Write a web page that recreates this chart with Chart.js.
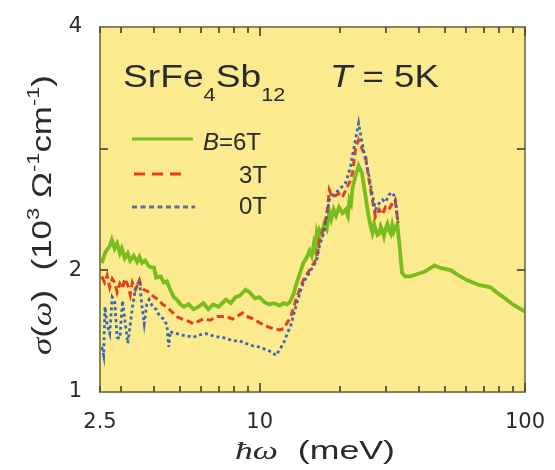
<!DOCTYPE html>
<html>
<head>
<meta charset="utf-8">
<script src="https://cdn.jsdelivr.net/npm/chart.js@4.4.1/dist/chart.umd.min.js"></script>
<style>
html,body{margin:0;padding:0;background:#ffffff;}
#wrap{width:555px;height:470px;}
</style>
</head>
<body>
<div id="wrap"><canvas id="c" width="555" height="470"></canvas></div>
<script>
// ---- data ----
const energy6T = [2.54,2.62,2.72,2.77,2.84,2.90,2.97,3.02,3.10,3.18,3.25,3.35,3.45,3.52,3.60,3.70,3.83,4.00,4.07,4.24,4.35,4.47,4.60,4.74,4.87,5.03,5.17,5.40,5.63,5.87,6.13,6.40,6.67,7.00,7.46,7.78,8.10,8.41,8.85,9.15,9.60,9.97,10.4,10.86,11.3,11.9,12.3,12.7,13.0,13.4,13.8,14.2,14.6,15.0,15.4,15.7,16.0,16.2,16.4,16.6,16.8,17.1,17.5,17.9,18.3,18.6,19.0,19.4,19.9,20.5,21.1,21.5,21.8,22.1,22.4,23.0,23.6,24.3,25.1,25.7,26.2,26.6,27.0,27.3,27.8,28.2,28.6,29.0,29.4,29.8,30.3,30.7,31.2,31.6,32.0,32.4,33.0,33.5,34.0,34.4,35.3,37.0,39.4,42.0,45.6,48.0,52.7,56.0,60.4,67.0,74.2,78.0,82.9,90.0,98.3,100];
const sigma6T  = [2.06,2.15,2.20,2.25,2.18,2.22,2.14,2.18,2.10,2.14,2.08,2.12,2.07,2.11,2.06,2.08,2.03,2.02,1.94,1.95,1.90,1.91,1.84,1.78,1.76,1.72,1.70,1.72,1.68,1.70,1.73,1.68,1.72,1.70,1.76,1.73,1.78,1.79,1.84,1.82,1.77,1.78,1.74,1.72,1.73,1.71,1.73,1.72,1.74,1.80,1.90,1.98,2.06,2.10,2.16,2.12,2.22,2.17,2.30,2.25,2.33,2.30,2.38,2.34,2.48,2.42,2.50,2.45,2.52,2.47,2.50,2.45,2.58,2.55,2.68,2.78,2.86,2.80,2.60,2.45,2.36,2.31,2.38,2.34,2.29,2.30,2.36,2.33,2.28,2.34,2.38,2.33,2.30,2.37,2.32,2.35,2.38,2.25,2.10,1.98,1.95,1.95,1.97,1.99,2.04,2.02,2.00,1.96,1.92,1.88,1.86,1.82,1.78,1.72,1.67,1.66];

const energy3T = [2.54,2.60,2.66,2.72,2.78,2.84,2.90,2.97,3.04,3.10,3.18,3.25,3.31,3.40,3.52,3.58,3.67,3.83,4.00,4.15,4.30,4.47,4.66,4.87,5.10,5.40,5.63,5.87,6.13,6.51,6.90,7.46,7.90,8.62,9.00,9.50,9.97,10.4,10.9,11.3,11.9,12.3,12.7,13.1,13.8,14.6,15.4,16.4,16.8,17.5,18.0,18.3,18.8,19.9,20.5,21.1,21.8,22.4,23.0,23.6,24.3,25.1,25.7,26.6,27.3,28.2,29.0,29.8,30.7,31.6,32.4,33.2];
const sigma3T  = [1.95,1.90,1.96,1.86,1.93,1.90,1.82,1.89,1.85,1.93,1.88,1.80,1.90,1.84,1.92,1.86,1.84,1.82,1.78,1.76,1.72,1.70,1.66,1.62,1.60,1.58,1.56,1.58,1.60,1.59,1.62,1.62,1.60,1.65,1.62,1.60,1.57,1.55,1.53,1.52,1.51,1.52,1.57,1.62,1.78,1.92,2.00,2.10,2.25,2.35,2.50,2.66,2.60,2.63,2.60,2.66,2.72,2.80,3.01,3.07,3.00,2.93,2.77,2.58,2.44,2.50,2.46,2.52,2.50,2.55,2.58,2.39];

const energy0T = [2.54,2.58,2.61,2.66,2.72,2.78,2.84,2.90,2.97,3.04,3.10,3.18,3.25,3.31,3.40,3.52,3.60,3.67,3.75,3.83,3.95,4.07,4.20,4.35,4.47,4.54,4.60,4.66,4.87,5.03,5.30,5.63,5.90,6.29,6.70,7.09,7.50,7.92,8.40,8.85,9.40,9.97,10.5,11.1,11.5,11.9,12.3,12.7,13.1,13.4,13.8,14.2,14.6,15.4,16.4,16.8,17.5,18.3,19.0,19.9,21.1,22.0,22.4,23.0,23.6,24.3,25.1,25.7,26.6,27.3,28.2,29.0,29.8,30.7,31.6,32.4,33.2];
const sigma0T  = [1.37,1.30,1.70,1.55,1.48,1.78,1.75,1.45,1.44,1.75,1.60,1.40,1.55,1.69,1.85,1.92,1.70,1.56,1.72,1.76,1.70,1.68,1.62,1.60,1.55,1.37,1.50,1.49,1.48,1.47,1.46,1.45,1.47,1.48,1.46,1.45,1.44,1.42,1.42,1.40,1.38,1.37,1.35,1.33,1.30,1.35,1.40,1.48,1.55,1.63,1.73,1.82,1.90,1.98,2.08,2.20,2.32,2.58,2.62,2.66,2.72,2.85,2.95,3.08,3.21,3.05,2.90,2.80,2.62,2.50,2.55,2.58,2.56,2.62,2.64,2.60,2.40];

const xTickValues = [2.5,3,4,5,6,7,8,9,10,20,30,40,50,60,70,80,90,100];
const xTickLabels = {2.5:'2.5',10:'10',100:'100'};
const yTickValues = [1,2,3,4];
const yTickLabels = {1:'1',2:'2',4:'4'};
const seriesNames = ['=6T','3T','0T'];

const toPts = (xs, ys) => xs.map((x,i)=>({x:x, y:ys[i]}));

const SANS = '"Liberation Sans", Arial, sans-serif';
const SERIF = '"Liberation Serif", "Times New Roman", serif';
const COL_G = '#78bc1e', COL_R = '#e4401c', COL_B = '#3a68b0';
const TXT = '#2a2a2a';

function drawParts(ctx, parts){
  let cx = 0;
  for(const p of parts){
    ctx.font = p.font;
    ctx.fillText(p.t, cx, p.dy||0);
    cx += ctx.measureText(p.t).width;
  }
  return cx;
}
function measureParts(ctx, parts){
  let w=0; for(const p of parts){ctx.font=p.font; w+=ctx.measureText(p.t).width;} return w;
}

const decor = {
  id:'decor',
  beforeDraw(chart){
    const {ctx, chartArea:a} = chart;
    ctx.save();
    ctx.fillStyle = '#fbea8e';
    ctx.fillRect(a.left, a.top, a.right-a.left, a.bottom-a.top);
    ctx.restore();
  },
  afterDraw(chart){
    const {ctx, chartArea:a} = chart;
    const xs = chart.scales.x, ys = chart.scales.y;
    ctx.save();
    ctx.setLineDash([]);
    ctx.strokeStyle = '#8a8258';
    ctx.lineWidth = 2;
    ctx.strokeRect(a.left, a.top, a.right-a.left, a.bottom-a.top);
    ctx.lineWidth = 1.8;
    ctx.strokeStyle = '#55503a';
    for(const v of xTickValues){
      const px = Math.round(xs.getPixelForValue(v));
      const len = (v===10||v===100) ? 9 : 6;
      ctx.beginPath();
      ctx.moveTo(px, a.bottom); ctx.lineTo(px, a.bottom-len);
      ctx.stroke();
      ctx.beginPath();
      ctx.moveTo(px, a.top); ctx.lineTo(px, a.top+len);
      ctx.stroke();
    }
    for(const v of [2,3]){
      const py = Math.round(ys.getPixelForValue(v));
      ctx.beginPath();
      ctx.moveTo(a.left, py); ctx.lineTo(a.left+8, py);
      ctx.stroke();
      ctx.beginPath();
      ctx.moveTo(a.right, py); ctx.lineTo(a.right-8, py);
      ctx.stroke();
    }
    ctx.restore();

    ctx.save();
    ctx.fillStyle = TXT;
    ctx.textBaseline = 'alphabetic';
    ctx.textAlign = 'left';
    ctx.save();
    ctx.translate(123, 87); ctx.scale(1.2, 1);
    drawParts(ctx, [
      {t:'SrFe', font:'31px '+SANS},
      {t:'4', font:'18px '+SANS, dy:14},
      {t:'Sb', font:'31px '+SANS},
      {t:'12', font:'18px '+SANS, dy:14}
    ]);
    ctx.restore();
    ctx.save();
    ctx.translate(330, 87); ctx.scale(1.18, 1);
    drawParts(ctx, [
      {t:'T', font:'italic 31px '+SANS},
      {t:' = 5K', font:'31px '+SANS}
    ]);
    ctx.restore();

    // legend
    ctx.save();
    ctx.lineWidth = 3;
    ctx.strokeStyle = COL_G; ctx.setLineDash([]);
    ctx.beginPath(); ctx.moveTo(132,139); ctx.lineTo(193,139); ctx.stroke();
    ctx.strokeStyle = COL_R; ctx.setLineDash([11,7]);
    ctx.beginPath(); ctx.moveTo(134,174); ctx.lineTo(188,174); ctx.stroke();
    ctx.strokeStyle = '#5e6f8e'; ctx.setLineDash([5,3.5]);
    ctx.beginPath(); ctx.moveTo(132,207); ctx.lineTo(195,207); ctx.stroke();
    ctx.restore();
    ctx.save();
    ctx.translate(203,150);
    drawParts(ctx, [{t:'B', font:'italic 24px '+SANS},{t:seriesNames[0], font:'24px '+SANS}]);
    ctx.restore();
    ctx.font = '24px '+SANS;
    ctx.fillText(seriesNames[1], 239, 183);
    ctx.fillText(seriesNames[2], 239, 214);

    // x title
    const xt = [
      {t:'ħω', font:'italic 26px '+SERIF},
      {t:'  (meV)', font:'26px '+SANS}
    ];
    const xw = measureParts(ctx, xt);
    ctx.save();
    ctx.translate(235, 459); ctx.scale(160/xw, 1);
    drawParts(ctx, xt);
    ctx.restore();

    // y title
    const yt = [
      {t:'σ', font:'italic 24px '+SERIF},
      {t:'(', font:'24px '+SANS},
      {t:'ω', font:'italic 24px '+SERIF},
      {t:')', font:'24px '+SANS},
      {t:'  (10', font:'24px '+SANS},
      {t:'3', font:'15px '+SANS, dy:-11},
      {t:' Ω', font:'24px '+SANS},
      {t:'-1', font:'15px '+SANS, dy:-11},
      {t:'cm', font:'24px '+SANS},
      {t:'-1', font:'15px '+SANS, dy:-11},
      {t:')', font:'24px '+SANS}
    ];
    const yw = measureParts(ctx, yt);
    ctx.save();
    ctx.translate(51, 355); ctx.rotate(-Math.PI/2); ctx.scale(280/yw, 1.12);
    drawParts(ctx, yt);
    ctx.restore();
    ctx.restore();
  }
};

new Chart(document.getElementById('c'), {
  type:'line',
  data:{
    datasets:[
      {label:'B=6T', data:toPts(energy6T, sigma6T), borderColor:COL_G, borderWidth:3.8, pointRadius:0, tension:0, order:3},
      {label:'3T', data:toPts(energy3T, sigma3T), borderColor:COL_R, borderWidth:3, borderDash:[7,4], pointRadius:0, tension:0, order:2},
      {label:'0T', data:toPts(energy0T, sigma0T), borderColor:COL_B, borderWidth:2.8, borderDash:[3,3], pointRadius:0, tension:0, order:1}
    ]
  },
  options:{
    responsive:false,
    animation:false,
    layout:{padding:{left:0,right:23,top:27,bottom:0}},
    plugins:{legend:{display:false}, tooltip:{enabled:false}},
    scales:{
      x:{
        type:'logarithmic', min:2.5, max:100,
        grid:{display:false}, border:{display:false},
        afterBuildTicks(s){ s.ticks = xTickValues.map(v=>({value:v})); },
        afterFit(s){ s.height = 78; },
        ticks:{
          autoSkip:false, maxRotation:0, padding:10,
          color:TXT, font:{family:'"DejaVu Sans", sans-serif', size:21},
          callback:(v)=> xTickLabels[v] || ''
        }
      },
      y:{
        type:'linear', min:1, max:4,
        grid:{display:false}, border:{display:false},
        afterBuildTicks(s){ s.ticks = yTickValues.map(v=>({value:v})); },
        afterFit(s){ s.width = 100; },
        ticks:{
          padding:10, color:TXT, font:{family:'"DejaVu Sans", sans-serif', size:21},
          callback:(v)=> yTickLabels[v] || ''
        }
      }
    }
  },
  plugins:[decor]
});
</script>
</body>
</html>
